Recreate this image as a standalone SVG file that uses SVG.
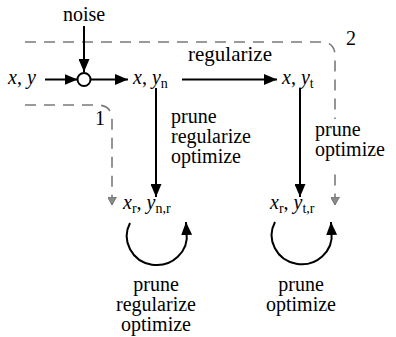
<svg xmlns="http://www.w3.org/2000/svg" width="396" height="337" viewBox="0 0 396 337">
<defs>
<marker id="ah" markerUnits="userSpaceOnUse" markerWidth="14" markerHeight="11" refX="13" refY="5.5" orient="auto" viewBox="0 0 14 11">
<path d="M0,0 L13,5.5 L0,11 z" fill="#000"/>
</marker>
<marker id="gh" markerUnits="userSpaceOnUse" markerWidth="9" markerHeight="9" refX="8" refY="4.5" orient="auto" viewBox="0 0 9 9">
<path d="M0,0 L8,4.5 L0,9 z" fill="#8a8a8a" stroke="#6a6a6a" stroke-width="0.8"/>
</marker>
</defs>
<rect width="396" height="337" fill="#fff"/>

<g id="connectors" fill="none">
<g stroke="#7a7a7a" stroke-width="1.6" stroke-dasharray="11 8">
<path id="route2" d="M25,42 H321 Q335,42 335,56 V205" marker-end="url(#gh)"/>
<path id="route1" d="M25,105 H97 Q112,105 112,120 V205" marker-end="url(#gh)"/>
</g>
<g stroke="#000" stroke-width="2">
<line x1="84" y1="26" x2="84" y2="72" marker-end="url(#ah)"/>
<line x1="45" y1="79.5" x2="77.5" y2="79.5" marker-end="url(#ah)"/>
<line x1="90.5" y1="79.5" x2="128" y2="79.5" marker-end="url(#ah)"/>
<line x1="182" y1="79.5" x2="277" y2="79.5" marker-end="url(#ah)"/>
<line x1="156" y1="88" x2="156" y2="197" marker-end="url(#ah)"/>
<line x1="300" y1="88" x2="300" y2="197" marker-end="url(#ah)"/>
<path d="M130,223 A30,29 0 1 0 186.5,232 L186,222" marker-end="url(#ah)"/>
<path d="M275,222 A30,29 0 1 0 331.5,232 L331,222" marker-end="url(#ah)"/>
</g>
</g>

<g id="noise"><text font-family="Liberation Serif, serif" font-size="20" text-anchor="middle" x="84" y="21">noise</text></g>
<g id="sum"><circle cx="84" cy="79.5" r="6.5" fill="#fff" stroke="#000" stroke-width="2"/></g>
<g id="xy"><text font-family="Liberation Serif, serif" font-size="20" x="8" y="84"><tspan font-style="italic">x</tspan>, <tspan font-style="italic">y</tspan></text></g>
<g id="xyn"><text font-family="Liberation Serif, serif" font-size="20" x="133" y="84"><tspan font-style="italic">x</tspan>, <tspan font-style="italic">y</tspan><tspan font-size="14" dy="4">n</tspan></text></g>
<g id="xyt"><text font-family="Liberation Serif, serif" font-size="20" x="282" y="84"><tspan font-style="italic">x</tspan>, <tspan font-style="italic">y</tspan><tspan font-size="14" dy="4">t</tspan></text></g>
<g id="xryn"><text font-family="Liberation Serif, serif" font-size="20" x="123" y="209"><tspan font-style="italic">x</tspan><tspan font-size="14" dy="4">r</tspan><tspan dy="-4">, </tspan><tspan font-style="italic">y</tspan><tspan font-size="14" dy="4">n,r</tspan></text></g>
<g id="xryt"><text font-family="Liberation Serif, serif" font-size="20" x="270" y="209"><tspan font-style="italic">x</tspan><tspan font-size="14" dy="4">r</tspan><tspan dy="-4">, </tspan><tspan font-style="italic">y</tspan><tspan font-size="14" dy="4">t,r</tspan></text></g>

<g id="label-regularize"><text font-family="Liberation Serif, serif" font-size="21" text-anchor="middle" x="230" y="61">regularize</text></g>
<g id="label-mid"><text font-family="Liberation Serif, serif" font-size="20" x="171" y="123"><tspan x="171">prune</tspan><tspan x="171" dy="20">regularize</tspan><tspan x="171" dy="20">optimize</tspan></text></g>
<g id="label-right"><rect x="313" y="119" width="83" height="48" fill="#fff"/><text font-family="Liberation Serif, serif" font-size="20" x="315" y="136"><tspan x="315">prune</tspan><tspan x="315" dy="20">optimize</tspan></text></g>
<g id="label-loop1"><text font-family="Liberation Serif, serif" font-size="20" text-anchor="middle" x="156" y="291"><tspan x="156">prune</tspan><tspan x="156" dy="20">regularize</tspan><tspan x="156" dy="20">optimize</tspan></text></g>
<g id="label-loop2"><text font-family="Liberation Serif, serif" font-size="20" text-anchor="middle" x="301" y="291"><tspan x="301">prune</tspan><tspan x="301" dy="20">optimize</tspan></text></g>
<g id="label-1"><text font-family="Liberation Serif, serif" font-size="20" x="95" y="125">1</text></g>
<g id="label-2"><text font-family="Liberation Serif, serif" font-size="20" x="346" y="45">2</text></g>
</svg>
